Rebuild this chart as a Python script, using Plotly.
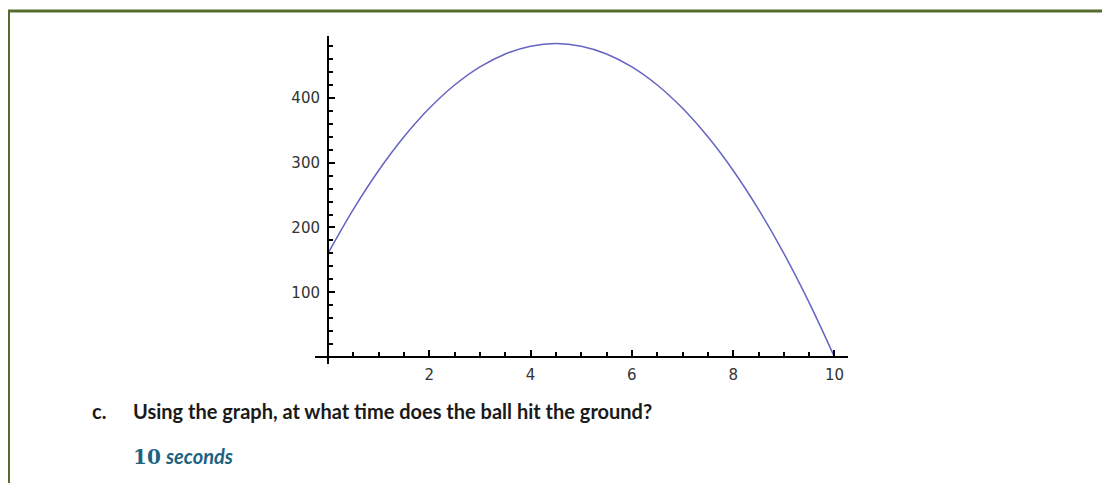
import plotly.graph_objects as go

# time (s) and height
t_vals = [0, 0.5, 1, 1.5, 2, 2.5, 3, 3.5, 4, 4.5, 5, 5.5, 6, 6.5, 7, 7.5, 8, 8.5, 9, 9.5, 10]
h_vals = [160, 228, 288, 340, 384, 420, 448, 468, 480, 484, 480, 468, 448, 420, 384, 340, 288, 228, 160, 84, 0]

x_ticks = [2, 4, 6, 8, 10]
y_ticks = [100, 200, 300, 400]

question = "Using the graph, at what time does the ball hit the ground?"
answer_num = "10"
answer_unit = "seconds"

W, H = 1110, 483
OFF = 8  # page body margin, figure sits 8px in
BORDER = "#566b2e"


def px(x):
    return (x - OFF) / W


def py(y):
    return 1 - (y - OFF) / H


fig = go.Figure()
fig.add_trace(go.Scatter(
    x=t_vals, y=h_vals, mode="lines",
    line=dict(color="#6464c2", width=1.5, shape="spline"),
    hoverinfo="skip", showlegend=False
))

# page-pixel layout of the plot box
px_left, px_right = 315, 848
px_top, px_bot = 36, 364
x0_px, y0_px = 328, 357

tick_font = dict(family="DejaVu Sans", size=15, color="#333")

fig.update_layout(
    width=W, height=H,
    margin=dict(l=0, r=0, t=0, b=0),
    paper_bgcolor="white", plot_bgcolor="rgba(0,0,0,0)",
    showlegend=False,
    xaxis=dict(
        domain=[px(px_left), px(px_right)],
        range=[-0.257, 10.267],
        anchor="free", position=py(y0_px),
        showline=True, linecolor="black", linewidth=2,
        showgrid=False, zeroline=False,
        tickmode="array", tickvals=x_ticks,
        ticks="inside", ticklen=6, tickwidth=1.5, tickcolor="black",
        minor=dict(ticks="inside", dtick=0.5, tick0=0, ticklen=4, tickwidth=1.5, tickcolor="black"),
        tickfont=tick_font,
        ticklabelstandoff=4,
    ),
    yaxis=dict(
        domain=[py(px_bot), py(px_top)],
        range=[-10.8, 495.7],
        anchor="free", position=px(x0_px),
        showline=True, linecolor="black", linewidth=2,
        showgrid=False, zeroline=False,
        tickmode="array", tickvals=y_ticks,
        ticks="inside", ticklen=6, tickwidth=1.5, tickcolor="black",
        minor=dict(ticks="inside", dtick=20, tick0=0, ticklen=4, tickwidth=1.5, tickcolor="black"),
        tickfont=tick_font,
        ticklabelstandoff=4,
    ),
)

# green frame (top and left edge)
fig.add_shape(type="line", xref="paper", yref="paper",
              x0=0, x1=1.0, y0=py(11), y1=py(11),
              line=dict(color=BORDER, width=3))
fig.add_shape(type="line", xref="paper", yref="paper",
              x0=0.5 / W, x1=0.5 / W, y0=py(10), y1=0,
              line=dict(color=BORDER, width=3))

text_font = dict(family="Lato", size=20, color="#1a1a1a")
fig.add_annotation(x=px(90), y=py(411), xref="paper", yref="paper",
                   xanchor="left", yanchor="middle", showarrow=False,
                   text="<b>c.</b>", font=text_font)
fig.add_annotation(x=px(131), y=py(411), xref="paper", yref="paper",
                   xanchor="left", yanchor="middle", showarrow=False,
                   text="<b>" + question + "</b>", font=text_font)
fig.add_annotation(x=px(131), y=py(456), xref="paper", yref="paper",
                   xanchor="left", yanchor="middle", showarrow=False,
                   text="<span style='font-family:\"DejaVu Serif\"'><b>" + answer_num + "</b></span> <b><i>" + answer_unit + "</i></b>",
                   font=dict(family="Lato", size=20, color="#1d6381"))

fig.write_html("out.html")
